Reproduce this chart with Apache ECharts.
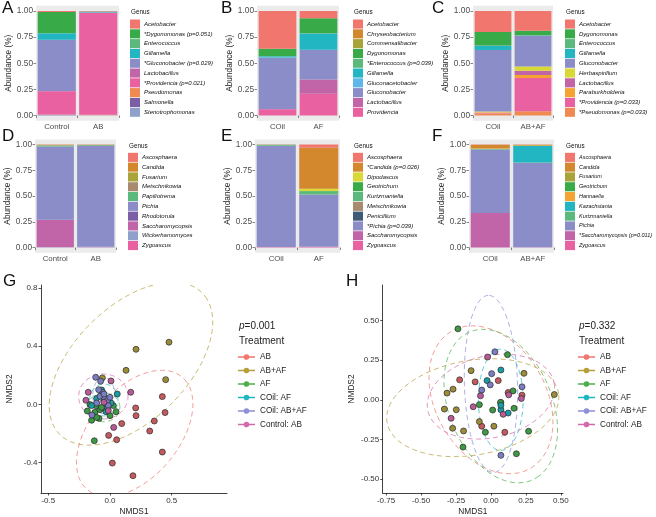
<!DOCTYPE html>
<html>
<head>
<meta charset="utf-8">
<script src="https://cdn.jsdelivr.net/npm/echarts@6/dist/echarts.min.js"></script>
<style>
  html, body { margin: 0; padding: 0; background: #fff; }
  #main { width: 656px; height: 517px; }
</style>
</head>
<body>
<div id="main"></div>
<script>
// ---- data: stacked relative abundance (first genus = top of the bar) ----
const catA = ['Control', 'AB'];
const genusA = ['Acetobacter', '*Dygonomonas (p=0.051)', 'Enterococcus', 'Gillamella', '*Gluconobacter (p=0.029)',
  'Lactobacillus', '*Providencia (p=0.021)', 'Pseudomonas', 'Salmonella', 'Stenotrophomonas'];
const colorA = ['#F0766E', '#38AA48', '#5BB97C', '#22B5C2', '#8B8DC8', '#C164A8', '#E961A0', '#EF8A50', '#7B5EA6', '#8FA1CB'];
const valA1 = [0.010, 0.200, 0.003, 0.063, 0.490, 0.002, 0.222, 0.003, 0.004, 0.003];
const valA2 = [0.004, 0.002, 0.001, 0.008, 0.002, 0.001, 0.975, 0.005, 0.001, 0.001];

const catB = ['COil', 'AF'];
const genusB = ['Acetobacter', 'Chryseobacterium', 'Commensalibacter', 'Dygonomonas', '*Enterococcus (p=0.039)',
  'Gillamella', 'Gluconacetobacter', 'Gluconobacter', 'Lactobacillus', 'Providencia'];
const colorB = ['#F0766E', '#D4882E', '#A9A43A', '#38AA48', '#5BB97C', '#22B5C2', '#5DB7E8', '#8B8DC8', '#C164A8', '#E961A0'];
const valB1 = [0.360, 0.000, 0.000, 0.070, 0.004, 0.012, 0.002, 0.490, 0.002, 0.060];
const valB2 = [0.070, 0.000, 0.000, 0.142, 0.003, 0.155, 0.000, 0.285, 0.136, 0.209];

const catC = ['COil', 'AB+AF'];
const genusC = ['Acetobacter', 'Dygonomonas', 'Enterococcus', 'Gillamella', 'Gluconobacter', 'Herbaspirillum',
  'Lactobacillus', 'Paraburkholderia', '*Providencia (p=0.033)', '*Pseudomonas (p=0.033)'];
const colorC = ['#F0766E', '#38AA48', '#5BB97C', '#22B5C2', '#8B8DC8', '#D9D935', '#C164A8', '#F6A431', '#E961A0', '#EF8A50'];
const valC1 = [0.200, 0.130, 0.003, 0.040, 0.590, 0.005, 0.002, 0.005, 0.005, 0.020];
const valC2 = [0.190, 0.042, 0.002, 0.003, 0.295, 0.040, 0.040, 0.030, 0.318, 0.040];

const catD = ['Control', 'AB'];
const genusD = ['Ascosphaera', 'Candida', 'Fusarium', 'Metschnikowia', 'Papiliotrema', 'Pichia',
  'Rhodotorula', 'Saccharomycopsis', 'Wickerhamomyces', 'Zygoascus'];
const colorD = ['#F0766E', '#D4882E', '#A9A43A', '#A88B6E', '#5BB97C', '#8B8DC8', '#7B5EA6', '#C164A8', '#8FA1CB', '#E961A0'];
const valD1 = [0.002, 0.002, 0.003, 0.002, 0.010, 0.710, 0.003, 0.265, 0.002, 0.001];
const valD2 = [0.001, 0.001, 0.003, 0.001, 0.008, 0.978, 0.003, 0.003, 0.001, 0.001];

const catE = ['COil', 'AF'];
const genusE = ['Ascosphaera', '*Candida (p=0.026)', 'Dipodascus', 'Geotrichum', 'Kurtzmaniella', 'Metschnikowia',
  'Penicillium', '*Pichia (p=0.039)', 'Saccharomycopsis', 'Zygoascus'];
const colorE = ['#F0766E', '#D4882E', '#D9D935', '#38AA48', '#5BB97C', '#A88B6E', '#3E5A78', '#8B8DC8', '#C164A8', '#E961A0'];
const valE1 = [0.001, 0.002, 0.000, 0.001, 0.008, 0.002, 0.001, 0.980, 0.002, 0.003];
const valE2 = [0.030, 0.400, 0.020, 0.005, 0.030, 0.002, 0.001, 0.505, 0.002, 0.005];

const catF = ['COil', 'AB+AF'];
const genusF = ['Ascosphaera', 'Candida', 'Fusarium', 'Geotrichum', 'Hannaella', 'Kazachstania',
  'Kurtzmaniella', 'Pichia', '*Saccharomycopsis (p=0.011)', 'Zygoascus'];
const colorF = ['#F0766E', '#D4882E', '#A9A43A', '#38AA48', '#F6A431', '#22B5C2', '#5BB97C', '#8B8DC8', '#C164A8', '#E961A0'];
const valF1 = [0.002, 0.035, 0.001, 0.001, 0.003, 0.002, 0.005, 0.615, 0.335, 0.001];
const valF2 = [0.001, 0.003, 0.001, 0.001, 0.008, 0.160, 0.005, 0.818, 0.002, 0.001];

const yTicks = [0, 0.25, 0.5, 0.75, 1];

// ---- data: NMDS ordination ----
const groups = ['AB', 'AB+AF', 'AF', 'COil: AF', 'COil: AB+AF', 'Control: AB'];
const groupColors = ['#F0766E', '#B59F3B', '#4DAF4A', '#1DB6C1', '#8C90D8', '#D46AAE'];
const pointColors = ['#C45A5E', '#9C8C3A', '#3E9844', '#199CA6', '#7A7EC4', '#B85A98'];

const gAB = [[0.208, -0.025], [0.211, -0.078], [0.424, 0.053], [0.446, -0.057], [0.359, -0.115], [0.322, -0.184],
  [0.095, -0.133], [-0.011, -0.214], [0.054, -0.244], [0.424, -0.329], [0.019, -0.405], [0.186, -0.492]];
const gABAF = [[0.478, 0.428], [0.211, 0.379], [0.130, 0.234], [-0.062, 0.182], [0.451, 0.170], [-0.030, -0.010]];
const gAF = [[-0.162, -0.002], [-0.184, -0.046], [-0.122, -0.055], [-0.081, -0.037], [-0.032, -0.032], [0.049, -0.051],
  [-0.089, -0.097], [-0.149, -0.110], [-0.108, -0.090], [0.000, -0.078], [-0.127, -0.251], [-0.114, -0.009],
  [-0.068, -0.021], [0.027, -0.009]];
const gCoilAF = [[0.059, 0.071], [-0.149, -0.009], [-0.108, 0.041], [-0.051, 0.025], [0.008, 0.009], [-0.032, -0.051],
  [-0.068, 0.099], [-0.022, -0.023]];
const gCoilABAF = [[-0.116, 0.186], [-0.076, 0.159], [-0.059, 0.083], [-0.081, 0.055], [-0.041, 0.041], [-0.022, 0.025],
  [0.000, 0.048], [-0.108, 0.009], [-0.146, -0.074], [-0.014, -0.009], [-0.049, 0.071], [-0.092, 0.101]];
const gCtrlAB = [[-0.176, 0.083], [-0.195, 0.028], [0.008, 0.161], [0.168, 0.083], [-0.049, 0.014], [-0.014, -0.044],
  [0.030, -0.159]];
// ellipses: [centre x, centre y, semi-axis a, semi-axis b, angle deg]
const gEllipses = [[0.20, -0.20, 0.55, 0.33, 40], [0.17, 0.28, 0.76, 0.42, 36], [-0.05, -0.02, 0.13, 0.10, 0],
  [-0.05, 0.03, 0.115, 0.11, 0], [-0.05, 0.06, 0.125, 0.09, 90], [-0.054, 0.054, 0.20, 0.155, 0]];

const hAB = [[-0.224, 0.126], [-0.113, 0.113], [0.052, 0.121], [-0.066, -0.167], [0.099, -0.205], [0.222, 0.029], [0.123, 0.046]];
const hABAF = [[0.453, 0.033], [0.236, 0.167], [-0.142, 0.184], [-0.271, 0.067], [-0.314, 0.042], [-0.333, -0.059],
  [-0.248, -0.063], [-0.274, -0.180], [-0.196, -0.197], [-0.083, -0.138], [0.021, -0.167], [0.071, -0.017]];
const hAF = [[-0.236, 0.448], [0.118, 0.285], [0.165, -0.054], [0.269, -0.199], [0.182, -0.341], [-0.200, -0.299],
  [-0.040, -0.205], [-0.083, -0.031], [0.012, -0.065], [0.158, 0.056], [0.068, -0.017]];
const hCoilAF = [[-0.028, 0.121], [0.071, 0.188], [0.071, -0.063], [0.123, -0.084], [0.071, -0.035]];
const hCoilABAF = [[0.028, 0.303], [0.005, 0.165], [-0.066, 0.061], [-0.005, 0.094], [0.222, 0.082], [0.071, -0.351]];
const hCtrlAB = [[-0.024, 0.270], [-0.075, 0.025], [-0.127, -0.044], [-0.285, -0.117], [0.087, -0.092], [0.127, 0.031], [0.217, 0.008]];
const hEllipses = [[0.00, 0.00, 0.52, 0.38, -50], [-0.13, -0.05, 0.62, 0.30, 8], [0.07, -0.04, 0.52, 0.36, -60],
  [0.07, 0.00, 0.32, 0.16, 90], [0.00, 0.10, 0.56, 0.19, 92], [0.00, 0.02, 0.46, 0.26, 10]];

// ---- layout ----
const FONT = 'Liberation Sans';
const barPanels = [
  {cat: catA, genus: genusA, color: colorA, v1: valA1, v2: valA2, grid: [36, 5.8, 83, 114.9], leg: [130, 19.5], fs: 6},
  {cat: catB, genus: genusB, color: colorB, v1: valB1, v2: valB2, grid: [257, 5.8, 82, 114.9], leg: [353, 19.5], fs: 6},
  {cat: catC, genus: genusC, color: colorC, v1: valC1, v2: valC2, grid: [473, 5.8, 80, 114.9], leg: [565, 19.5], fs: 6},
  {cat: catD, genus: genusD, color: colorD, v1: valD1, v2: valD2, grid: [35, 139.4, 81, 113.3], leg: [128, 152.8], fs: 6},
  {cat: catE, genus: genusE, color: colorE, v1: valE1, v2: valE2, grid: [255, 139.4, 85, 113.3], leg: [353, 152.8], fs: 6},
  {cat: catF, genus: genusF, color: colorF, v1: valF1, v2: valF2, grid: [469, 139.4, 85, 113.3], leg: [565, 152.8], fs: 5.5}
];

const grids = [], xAxes = [], yAxes = [], series = [], legends = [], graphics = [];

barPanels.forEach(function (p, k) {
  grids.push({left: p.grid[0], top: p.grid[1], width: p.grid[2], height: p.grid[3],
    show: true, backgroundColor: '#EBEBEB', borderWidth: 0});
  xAxes.push({type: 'category', gridIndex: k, data: p.cat,
    axisLine: {show: false}, axisTick: {show: true, length: 2.5, lineStyle: {color: '#333', width: 0.6}},
    axisLabel: {fontFamily: FONT, fontSize: 7.8, color: '#4D4D4D', margin: 2.5}});
  yAxes.push({type: 'value', gridIndex: k, min: -0.05, max: 1.05,
    name: 'Abundance (%)', nameLocation: 'middle', nameRotate: 90, nameGap: 22,
    nameTextStyle: {fontFamily: FONT, fontSize: 8.3, color: '#222'},
    axisLine: {show: false},
    axisTick: {show: true, length: 2.5, customValues: yTicks, lineStyle: {color: '#333', width: 0.6}},
    axisLabel: {fontFamily: FONT, fontSize: 8.3, color: '#4D4D4D', margin: 3, customValues: yTicks,
      formatter: function (v) { return v.toFixed(2); }},
    splitLine: {show: false}});
  for (let i = p.genus.length - 1; i >= 0; i--) {
    series.push({type: 'bar', name: p.genus[i], xAxisIndex: k, yAxisIndex: k, stack: 'panel' + k,
      barWidth: '92%', itemStyle: {color: p.color[i]}, data: [p.v1[i], p.v2[i]]});
  }
  legends.push({orient: 'vertical', left: p.leg[0], top: p.leg[1], padding: 0,
    itemWidth: 10, itemHeight: 9.1, itemGap: 0.7, icon: 'rect', selectedMode: false,
    textStyle: {fontFamily: FONT, fontSize: p.fs, fontStyle: 'italic', color: '#111', padding: [0, 0, 0, -1]},
    data: p.genus.map(function (g, i) {
      return {name: g, itemStyle: {color: p.color[i]}};
    })});
  graphics.push({type: 'text', left: p.leg[0] + 1, top: p.leg[1] - 10,
    style: {text: 'Genus', font: '6.3px ' + FONT, fill: '#111'}});
});

function ellipseItem(params, api) {
  const cx = api.value(0), cy = api.value(1), a = api.value(2), b = api.value(3);
  const ang = api.value(4) * Math.PI / 180;
  const pts = [];
  for (let s = 0; s <= 90; s++) {
    const t = s / 90 * 2 * Math.PI;
    pts.push(api.coord([
      cx + a * Math.cos(t) * Math.cos(ang) - b * Math.sin(t) * Math.sin(ang),
      cy + a * Math.cos(t) * Math.sin(ang) + b * Math.sin(t) * Math.cos(ang)
    ]));
  }
  return {type: 'polyline', shape: {points: pts},
    style: {stroke: api.visual('color'), lineWidth: 0.85, lineDash: [5, 3.5], fill: null, opacity: 0.85}};
}

const nmdsPanels = [
  {grid: [41, 285, 186, 210], x: [-0.559, 0.948], y: [-0.611, 0.822], xt: [-0.5, 0, 0.5], yt: [-0.4, 0, 0.4, 0.8],
    xf: function (v) { return v.toFixed(1); }, yf: function (v) { return v.toFixed(1); },
    pts: [gAB, gABAF, gAF, gCoilAF, gCoilABAF, gCtrlAB], ell: gEllipses, leg: [238, 353], pval: '0.001'},
  {grid: [382.7, 285, 180.3, 210], x: [-0.774, 0.515], y: [-0.589, 0.725], xt: [-0.75, -0.5, -0.25, 0, 0.25, 0.5],
    yt: [-0.5, -0.25, 0, 0.25, 0.5],
    xf: function (v) { return v.toFixed(2); }, yf: function (v) { return v.toFixed(2); },
    pts: [hAB, hABAF, hAF, hCoilAF, hCoilABAF, hCtrlAB], ell: hEllipses, leg: [578, 353], pval: '0.332'}
];

const lineIcon = 'path://M0,4.3 L17,4.3 L17,5.7 L0,5.7 Z M8.5,2.2 A2.8,2.8 0 1,1 8.49,2.2 Z';

nmdsPanels.forEach(function (p, j) {
  const k = barPanels.length + j;
  grids.push({left: p.grid[0], top: p.grid[1], width: p.grid[2], height: p.grid[3], show: false});
  xAxes.push({type: 'value', gridIndex: k, min: p.x[0], max: p.x[1],
    name: 'NMDS1', nameLocation: 'middle', nameGap: 15,
    nameTextStyle: {fontFamily: FONT, fontSize: 8.3, color: '#222'},
    axisLine: {show: true, onZero: false, lineStyle: {color: '#111', width: 0.8}},
    axisTick: {show: true, length: 2.5, customValues: p.xt, lineStyle: {color: '#111', width: 0.7}},
    axisLabel: {fontFamily: FONT, fontSize: 8, color: '#333', margin: 3.5, customValues: p.xt, formatter: p.xf},
    splitLine: {show: false}});
  yAxes.push({type: 'value', gridIndex: k, min: p.y[0], max: p.y[1],
    name: 'NMDS2', nameLocation: 'middle', nameRotate: 90, nameGap: 27,
    nameTextStyle: {fontFamily: FONT, fontSize: 8.3, color: '#222'},
    axisLine: {show: true, onZero: false, lineStyle: {color: '#111', width: 0.8}},
    axisTick: {show: true, length: 2.5, customValues: p.yt, lineStyle: {color: '#111', width: 0.7}},
    axisLabel: {fontFamily: FONT, fontSize: 8, color: '#333', margin: 3.5, customValues: p.yt, formatter: p.yf},
    splitLine: {show: false}});
  groups.forEach(function (g, i) {
    series.push({type: 'custom', name: g, xAxisIndex: k, yAxisIndex: k, clip: true,
      itemStyle: {color: groupColors[i]}, renderItem: ellipseItem,
      encode: {x: 0, y: 1}, data: [p.ell[i]], silent: true, z: 1});
  });
  groups.forEach(function (g, i) {
    series.push({type: 'scatter', name: g, xAxisIndex: k, yAxisIndex: k, symbolSize: 6, z: 3,
      itemStyle: {color: pointColors[i], opacity: 1, borderColor: '#2a2a2a', borderWidth: 0.7},
      data: p.pts[i]});
  });
  legends.push({orient: 'vertical', left: p.leg[0], top: p.leg[1], padding: 0,
    itemWidth: 17, itemHeight: 10, itemGap: 5.5, selectedMode: false,
    textStyle: {fontFamily: FONT, fontSize: 8.2, color: '#222', padding: [0, 0, 0, 0]},
    data: groups.map(function (g, i) {
      return {name: g, icon: lineIcon, itemStyle: {color: groupColors[i], borderWidth: 0}};
    })});
  graphics.push({type: 'text', left: p.leg[0] + 1, top: 321,
    style: {text: '{i|p}=' + p.pval, font: '10px ' + FONT, fill: '#222',
      rich: {i: {fontStyle: 'italic', fontFamily: FONT, fontSize: 10, fill: '#222'}}}});
  graphics.push({type: 'text', left: p.leg[0] + 1, top: 336,
    style: {text: 'Treatment', font: '10px ' + FONT, fill: '#222'}});
});

// panel letters
const letters = [['A', 2, 0], ['B', 221, 0], ['C', 432, 0], ['D', 2, 128], ['E', 221, 128], ['F', 432, 128],
  ['G', 3, 273], ['H', 346, 273]];
letters.forEach(function (l) {
  graphics.push({type: 'text', left: l[1], top: l[2], style: {text: l[0], font: '17px ' + FONT, fill: '#111'}});
});

const chart = echarts.init(document.getElementById('main'), null, {renderer: 'canvas'});
chart.setOption({
  backgroundColor: '#fff',
  animation: false,
  grid: grids,
  xAxis: xAxes,
  yAxis: yAxes,
  legend: legends,
  graphic: graphics,
  series: series
});
</script>
</body>
</html>
